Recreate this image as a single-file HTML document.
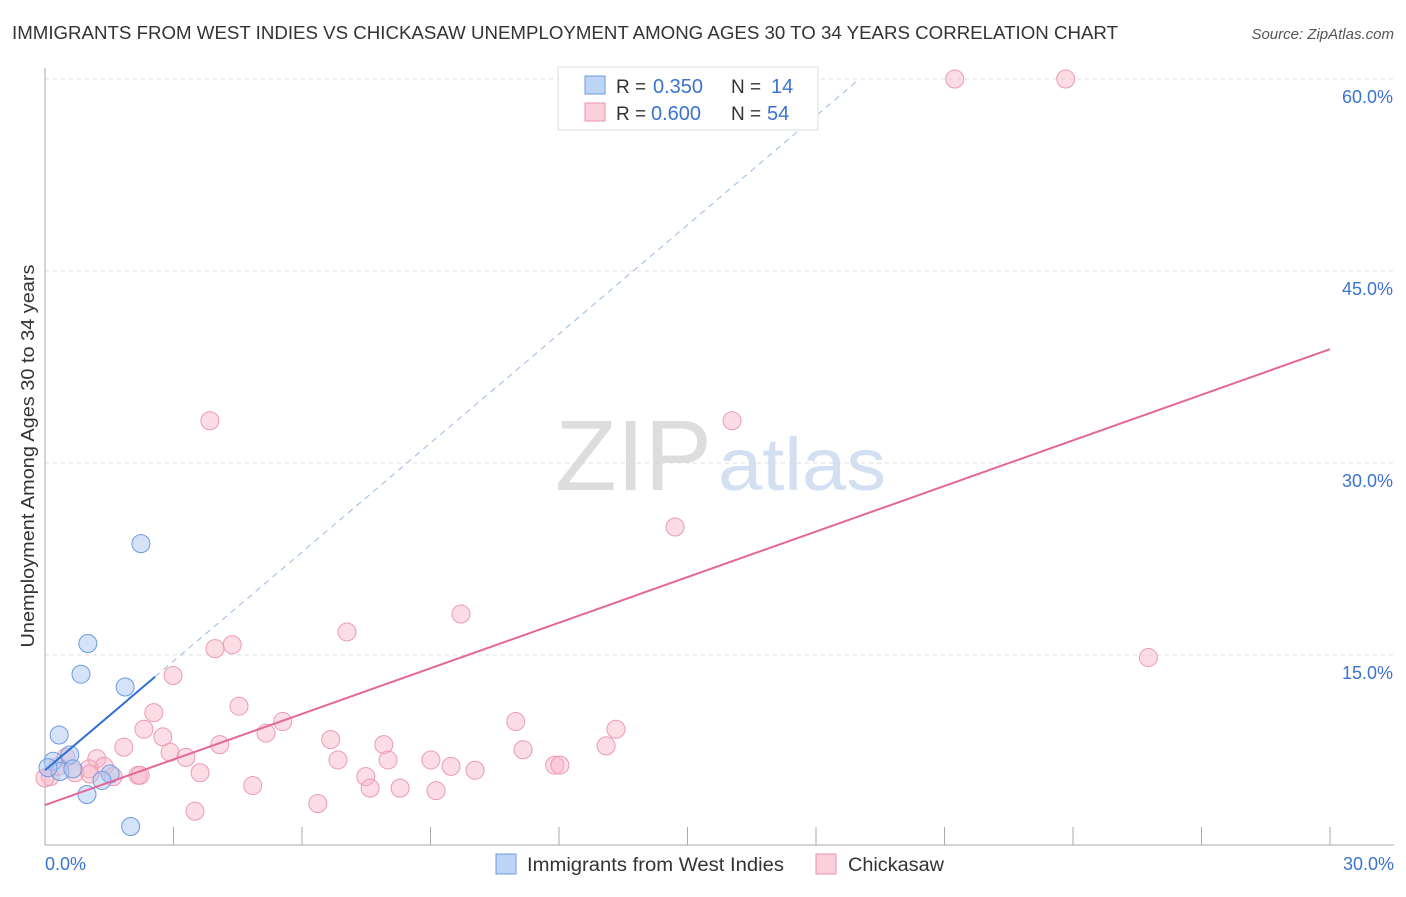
<!DOCTYPE html>
<html><head><meta charset="utf-8"><style>
body{margin:0;background:#fff;font-family:"Liberation Sans",sans-serif}
svg text{font-family:"Liberation Sans",sans-serif}
</style></head><body>
<svg id="c" width="1406" height="892">
<text x="12" y="39" font-size="18" textLength="1106" lengthAdjust="spacingAndGlyphs" fill="#333">IMMIGRANTS FROM WEST INDIES VS CHICKASAW UNEMPLOYMENT AMONG AGES 30 TO 34 YEARS CORRELATION CHART</text>
<text x="1394" y="39" font-size="15" fill="#555" text-anchor="end" font-style="italic">Source: ZipAtlas.com</text>
<text x="555" y="490" font-size="100" textLength="157" lengthAdjust="spacingAndGlyphs" fill="#ddd" font-family="Liberation Serif">ZIP</text>
<text x="718" y="490" font-size="74" textLength="168" lengthAdjust="spacingAndGlyphs" fill="#d3e0f2">atlas</text>
<text transform="translate(34,456) rotate(-90)" font-size="18" textLength="383" lengthAdjust="spacingAndGlyphs" fill="#333" text-anchor="middle">Unemployment Among Ages 30 to 34 years</text>
<g id="grid"></g><g id="marks"></g>
<g>
<rect x="558" y="67" width="260" height="63" fill="#fff" stroke="#ddd"/>
<rect x="585" y="76" width="20" height="18" fill="#bcd4f5" stroke="#6d9be0"/>
<rect x="585" y="103" width="20" height="18" fill="#fbd0dc" stroke="#e993ad"/>
<text x="616" y="93" font-size="19" fill="#333">R =</text>
<text x="653" y="93" font-size="20" fill="#3b73d1">0.350</text>
<text x="731" y="93" font-size="19" fill="#333">N =</text>
<text x="771" y="93" font-size="20" fill="#3b73d1">14</text>
<text x="616" y="120" font-size="19" fill="#333">R =</text>
<text x="651" y="120" font-size="20" fill="#3b73d1">0.600</text>
<text x="731" y="120" font-size="19" fill="#333">N =</text>
<text x="767" y="120" font-size="20" fill="#3b73d1">54</text>
</g>
<g>
<rect x="496" y="854" width="20" height="20" fill="#bcd4f5" stroke="#6d9be0"/>
<text x="527" y="871" font-size="19" textLength="257" lengthAdjust="spacingAndGlyphs" fill="#333">Immigrants from West Indies</text>
<rect x="816" y="854" width="20" height="20" fill="#fbd0dc" stroke="#e993ad"/>
<text x="848" y="871" font-size="19" textLength="96" lengthAdjust="spacingAndGlyphs" fill="#333">Chickasaw</text>
</g>
</svg>
<script>
const yTicks=[15,30,45,60];
const yTickLabels=["15.0%","30.0%","45.0%","60.0%"];
const xTickLabels=["0.0%","30.0%"];
const blueX=[0.19,0.33,1.0,0.84,1.87,2.24,0.58,0.35,0.65,1.52,1.33,0.98,2.0,0.07];
const blueY=[6.7,8.75,15.9,13.5,12.5,23.7,7.2,5.9,6.1,5.7,5.2,4.1,1.6,6.2];
const pinkX=[21.24,23.83,3.85,16.04,14.71,9.71,7.05,4.37,3.97,25.76,2.99,4.53,2.54,10.99,5.55,13.33,5.16,2.31,2.75,6.67,4.08,1.84,13.1,7.91,11.16,2.92,1.21,3.29,0.49,6.84,8.01,9.01,1.38,9.48,11.9,12.02,10.04,0.7,3.62,2.17,1.59,7.49,4.85,7.59,8.29,9.13,6.37,3.5,0.12,0.3,1.03,0.0,2.22,1.05];
const pinkY=[60,60,33.3,33.3,25.0,18.2,16.8,15.8,15.5,14.8,13.4,11.0,10.5,9.8,9.8,9.2,8.9,9.2,8.6,8.4,8.0,7.8,7.9,8.0,7.6,7.4,6.9,7.0,7.0,6.8,6.8,6.8,6.3,6.3,6.4,6.4,6.0,5.8,5.8,5.6,5.5,5.5,4.8,4.6,4.6,4.4,3.4,2.8,5.5,6.3,6.1,5.4,5.6,5.7];
const blueLine=[6.0,2.84]; const pinkLine=[3.28,1.187];
const NS="http://www.w3.org/2000/svg";
const X=v=>45+v/30*1285, Y=v=>847-v*12.8;
function mk(p,t,a){const e=document.createElementNS(NS,t);for(const k in a)e.setAttribute(k,a[k]);p.appendChild(e);return e;}
const g=document.getElementById('grid'),m=document.getElementById('marks');
yTicks.forEach((v,i)=>{const l=mk(g,'line',{x1:45,x2:1394,y1:Y(v),y2:Y(v),stroke:'#ddd','stroke-dasharray':'4,4'});

const t=mk(g,'text',{x:1393,y:Y(v)+24,'font-size':18,fill:'#3b73d1','text-anchor':'end'});t.textContent=yTickLabels[i];
});
const ax=mk(g,'line',{x1:45,x2:45,y1:68,y2:845,stroke:'#aaa'});
const bx=mk(g,'line',{x1:45,x2:1394,y1:845,y2:845,stroke:'#aaa'});
for(let i=0;i<=10;i++){const tk=mk(g,'line',{x1:X(i*3),x2:X(i*3),y1:827,y2:845,stroke:'#aaa'});}
[[0,45,'start'],[30,1394,'end']].forEach((a,i)=>{const t=mk(g,'text',{x:a[1],y:870,'font-size':18,fill:'#3b73d1','text-anchor':a[2]});t.textContent=xTickLabels[i];});
pinkX.forEach((x,i)=>{const c=mk(m,'circle',{cx:X(x),cy:Y(pinkY[i]),r:9,fill:'rgba(248,180,200,0.45)',stroke:'#eb9ab3','stroke-width':1});});
blueX.forEach((x,i)=>{const c=mk(m,'circle',{cx:X(x),cy:Y(blueY[i]),r:9,fill:'rgba(170,200,240,0.5)',stroke:'#6d9be0','stroke-width':1});});
const bEnd=(60-blueLine[0])/blueLine[1];
const d=mk(m,'line',{x1:X(2.57),y1:Y(blueLine[0]+blueLine[1]*2.57),x2:X(bEnd),y2:Y(60),stroke:'#9bb8e4','stroke-dasharray':'6,5'});
const b=mk(m,'line',{x1:X(0),y1:Y(blueLine[0]),x2:X(2.57),y2:Y(blueLine[0]+blueLine[1]*2.57),stroke:'#2f6fd6','stroke-width':2});
const p=mk(m,'line',{x1:X(0),y1:Y(pinkLine[0]),x2:X(30),y2:Y(pinkLine[0]+pinkLine[1]*30),stroke:'#e4679a','stroke-width':2});
</script>
</body></html>
